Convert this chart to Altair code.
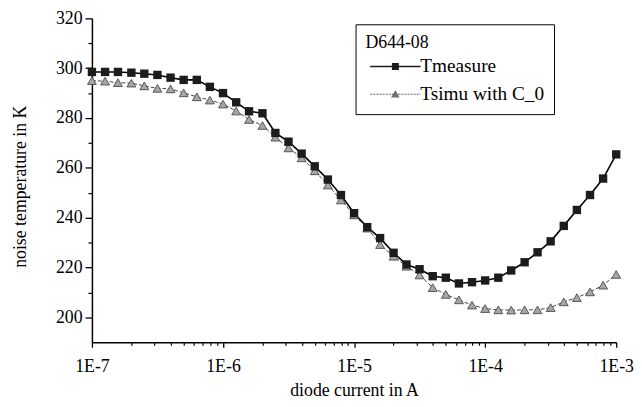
import altair as alt
import pandas as pd

# ---- data ----
current_A = [
    1.00e-7, 1.26e-7, 1.58e-7, 2.00e-7, 2.51e-7, 3.16e-7, 3.98e-7, 5.01e-7, 6.31e-7, 7.94e-7,
    1.00e-6, 1.26e-6, 1.58e-6, 2.00e-6, 2.51e-6, 3.16e-6, 3.98e-6, 5.01e-6, 6.31e-6, 7.94e-6,
    1.00e-5, 1.26e-5, 1.58e-5, 2.00e-5, 2.51e-5, 3.16e-5, 3.98e-5, 5.01e-5, 6.31e-5, 7.94e-5,
    1.00e-4, 1.26e-4, 1.58e-4, 2.00e-4, 2.51e-4, 3.16e-4, 3.98e-4, 5.01e-4, 6.31e-4, 7.94e-4,
    1.00e-3,
]
t_measure = [
    298.5, 298.5, 298.5, 298.2, 297.8, 297.3, 296.2, 295.3, 295.3, 292.5,
    290.0, 286.3, 282.7, 281.9, 274.0, 270.5, 265.7, 260.6, 255.3, 249.1,
    241.8, 236.2, 231.8, 225.9, 221.2, 219.3, 216.5, 215.9, 213.6, 214.1,
    214.8, 215.9, 218.8, 222.1, 226.1, 230.5, 236.7, 243.1, 249.1, 255.7,
    265.4,
]
t_simu = [
    295.0, 294.8, 294.2, 294.0, 292.9, 291.9, 291.7, 290.1, 288.5, 287.2,
    285.6, 282.8, 279.4, 277.0, 272.3, 268.0, 264.0, 258.8, 253.1, 247.1,
    241.1, 235.8, 229.2, 224.5, 220.5, 217.0, 211.9, 209.2, 207.0, 204.9,
    203.5, 203.0, 202.9, 203.0, 203.0, 203.9, 206.2, 207.9, 210.2, 212.9,
    217.2,
]
series_names = ["Tmeasure", "Tsimu with C_0"]
legend_title = "D644-08"
x_title = "diode current in A"
y_title = "noise temperature in K"
x_major = [1e-7, 1e-6, 1e-5, 1e-4, 1e-3]
x_minor = [m * d for d in [1e-7, 1e-6, 1e-5, 1e-4] for m in range(2, 10)]
y_major = [200, 220, 240, 260, 280, 300, 320]
y_minor = [210, 230, 250, 270, 290, 310]

df = pd.concat([
    pd.DataFrame({"current": current_A, "T": t_measure, "series": series_names[0]}),
    pd.DataFrame({"current": current_A, "T": t_simu, "series": series_names[1]}),
])

FONT = "Liberation Serif, Times New Roman, DejaVu Serif, serif"

# legend symbol shapes (line + marker), unit = sqrt(size)/2 px
def rect(x0, x1, h):
    return f"M{x0:.3f},{-h:.3f}H{x1:.3f}V{h:.3f}H{x0:.3f}Z"

X0 = -0.71
L = 7.3
mid = X0 + L / 2
sym_meas = rect(X0, X0 + L, 0.11) + " " + rect(mid - 0.5, mid + 0.5, 0.5)
dashes = []
x = X0
while x < X0 + L:
    dashes.append(rect(x, min(x + 0.3, X0 + L), 0.07))
    x += 0.45
sym_simu = " ".join(dashes) + f" M{mid:.3f},-0.6L{mid + 0.62:.3f},0.47H{mid - 0.62:.3f}Z"

xscale = alt.Scale(type="log", domain=[1e-7, 1e-3])
yscale = alt.Scale(domain=[190, 320], nice=False, zero=False)

axis_common = dict(
    grid=False, domainColor="black", domainWidth=1.5, tickColor="black", tickWidth=1.3,
    labelFont=FONT, labelFontSize=18, labelColor="black",
    titleFont=FONT, titleFontSize=18, titleColor="black", titleFontWeight="normal",
    labelOverlap=False, labelBound=False,
)

x_axis_major = alt.Axis(
    orient="bottom", values=x_major, tickSize=5, labelPadding=11,
    labelExpr="'1E' + round(log(datum.value)/LN10)", labelFlush=False,
    title=x_title, titlePadding=6, **axis_common,
)
y_axis_major = alt.Axis(
    orient="left", values=y_major, tickSize=7, labelPadding=3,
    title=y_title, titlePadding=26, titleY=170, **axis_common,
)
x_axis_minor = alt.Axis(
    orient="bottom", values=x_minor, tickSize=3, labels=False, domain=False,
    title=None, grid=False, tickColor="black", tickWidth=1.2,
)
y_axis_minor = alt.Axis(
    orient="left", values=y_minor, tickSize=4, labels=False, domain=False,
    title=None, grid=False, tickColor="black", tickWidth=1.2,
)

base = alt.Chart(df)

line_meas = base.transform_filter(alt.datum.series == series_names[0]).mark_line(
    color="black", strokeWidth=1.6
).encode(
    x=alt.X("current:Q", scale=xscale, axis=x_axis_major),
    y=alt.Y("T:Q", scale=yscale, axis=y_axis_major),
)

line_simu = base.transform_filter(alt.datum.series == series_names[1]).mark_line(
    color="#444444", strokeWidth=1, strokeDash=[4, 2]
).encode(
    x=alt.X("current:Q", scale=xscale, axis=x_axis_minor),
    y=alt.Y("T:Q", scale=yscale, axis=y_axis_minor),
)

pts_simu = base.transform_filter(alt.datum.series == series_names[1]).mark_point(
    shape="triangle-up", filled=True, color="#a6a6a6", stroke="#4a4a4a",
    strokeWidth=0.9, size=80, opacity=1
).encode(
    x=alt.X("current:Q", scale=xscale, axis=None),
    y=alt.Y("T:Q", scale=yscale, axis=None),
)

pts_meas = base.transform_filter(alt.datum.series == series_names[0]).mark_point(
    shape="square", filled=True, color="#1c1c1c", size=72, opacity=1
).encode(
    x=alt.X("current:Q", scale=xscale, axis=None),
    y=alt.Y("T:Q", scale=yscale, axis=None),
)

legend_kw = dict(
    orient="none", legendX=267, legendY=6, title=legend_title,
    titleFont=FONT, titleFontSize=18, titleFontWeight="normal", titleColor="black",
    titlePadding=5, labelFont=FONT, labelFontSize=19.5, labelColor="black",
    labelOffset=36, symbolSize=196, symbolOpacity=1, symbolStrokeWidth=0,
    strokeColor="black", fillColor="white", padding=10, rowPadding=7,
)

legend_layer = base.mark_point(filled=True, opacity=0).encode(
    x=alt.X("current:Q", scale=xscale, axis=None),
    y=alt.Y("T:Q", scale=yscale, axis=None),
    color=alt.Color("series:N", scale=alt.Scale(domain=series_names, range=["#1c1c1c", "#6e6e6e"]),
                    legend=alt.Legend(**legend_kw)),
    shape=alt.Shape("series:N", scale=alt.Scale(domain=series_names, range=[sym_meas, sym_simu]),
                    legend=alt.Legend(**legend_kw)),
)

chart = alt.layer(line_meas, line_simu, pts_simu, pts_meas, legend_layer).resolve_axis(
    x="independent", y="independent"
).properties(
    width=531, height=328,
    autosize=alt.AutoSizeParams(type="none"),
    padding={"left": 85, "top": 8, "right": 18, "bottom": 55},
    background="white",
).configure_view(stroke=None)

chart.save("out.html", embed_options={"renderer": "svg", "actions": False})
